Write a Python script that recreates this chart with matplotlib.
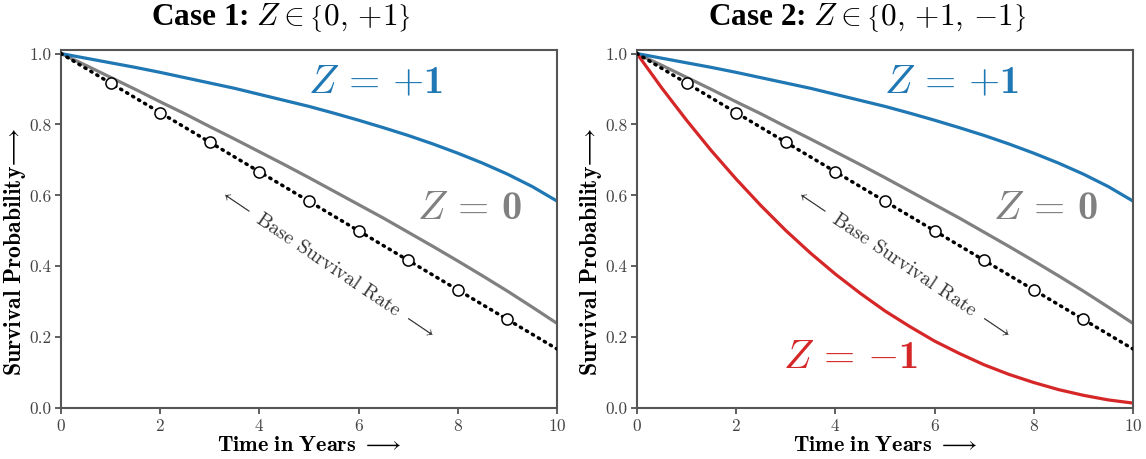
import numpy as np
import matplotlib
matplotlib.use("Agg")
import matplotlib.pyplot as plt

plt.rcParams['mathtext.fontset'] = 'cm'
plt.rcParams['font.family'] = 'cmr10'
plt.rcParams['axes.unicode_minus'] = False
plt.rcParams['axes.formatter.use_mathtext'] = True

# values
years = [0, 0.5, 1, 1.5, 2, 2.5, 3, 3.5, 4, 4.5, 5, 5.5, 6, 6.5, 7, 7.5, 8, 8.5, 9, 9.5, 10]
surv_pos = [1.000, 0.987, 0.974, 0.961, 0.947, 0.932, 0.917, 0.902, 0.885, 0.868, 0.851,
            0.832, 0.812, 0.791, 0.769, 0.745, 0.719, 0.691, 0.660, 0.625, 0.584]
surv_zero = [1.000, 0.967, 0.933, 0.899, 0.864, 0.830, 0.794, 0.759, 0.723, 0.687, 0.650,
             0.612, 0.574, 0.536, 0.496, 0.456, 0.415, 0.373, 0.330, 0.285, 0.239]
surv_neg = [1.000, 0.903, 0.812, 0.726, 0.646, 0.571, 0.501, 0.437, 0.378, 0.324, 0.274,
            0.230, 0.189, 0.154, 0.122, 0.095, 0.072, 0.052, 0.036, 0.023, 0.014]
base_years = [0, 10]
base_rate = [1.0, 0.1667]
marker_years = [1, 2, 3, 4, 5, 6, 7, 8, 9]
marker_rate = [0.917, 0.833, 0.750, 0.667, 0.583, 0.500, 0.417, 0.333, 0.250]

titles = [r'Case 1: $Z \in \left\{0,\,{+}1\right\}$',
          r'Case 2: $Z \in \left\{0,\,{+}1,\,{-}1\right\}$']
title_x = [0.245, 0.757]

BLUE = '#1f77b4'
GRAY = '#808080'
RED = '#d62728'

fig = plt.figure(figsize=(11.46, 4.59), dpi=100)
ax1 = fig.add_axes([0.0532, 0.111, 0.4328, 0.780])
ax2 = fig.add_axes([0.5558, 0.111, 0.4328, 0.780])

zkw = dict(fontsize=29, ha='center', va='center', fontfamily='cmb10')

for i, ax in enumerate([ax1, ax2]):
    ax.plot(base_years, base_rate, color='black', lw=2.5,
            linestyle=(0, (0.4, 1.6)), dash_capstyle='round', zorder=3)
    ax.plot(marker_years, marker_rate, 'o', ms=8, mfc='white', mec='black',
            mew=1.1, zorder=4)
    ax.plot(years, surv_zero, color=GRAY, lw=2.3)
    ax.plot(years, surv_pos, color=BLUE, lw=2.3)
    if i == 1:
        ax.plot(years, surv_neg, color=RED, lw=2.3)
        ax.text(4.3, 0.14, r'$Z \,=\, {-}$1', color=RED, **zkw)

    ax.text(6.35, 0.915, r'$Z \,=\, {+}$1', color=BLUE, **zkw)
    ax.text(8.25, 0.56, r'$Z \,=\,$0', color=GRAY, **zkw)
    ax.text(5.36, 0.405, r'$\longleftarrow$ Base Survival Rate $\longrightarrow$',
            rotation=-34, rotation_mode='anchor', ha='center', va='center',
            fontsize=14.5, color='#333333')

    ax.set_xlim(0, 10)
    ax.set_ylim(0, 1.01)
    ax.set_xticks([0, 2, 4, 6, 8, 10])
    ax.set_yticks([0.0, 0.2, 0.4, 0.6, 0.8, 1.0])
    ax.set_yticklabels(['0.0', '0.2', '0.4', '0.6', '0.8', '1.0'])
    ax.tick_params(labelsize=12.5, colors='#444444', length=4, width=1.2, pad=3)
    for sp in ax.spines.values():
        sp.set_color('#555555')
        sp.set_linewidth(1.5)
    ax.set_xlabel(r'$\mathbf{Time\ in\ Years}\ \longrightarrow$', fontsize=16, labelpad=1)
    ax.set_ylabel(r'$\mathbf{Survival\ Probability}\!\longrightarrow$', fontsize=17)
    ax.yaxis.set_label_coords(-0.066, 0.436)
    fig.text(title_x[i], 0.962, titles[i], fontsize=22.5, ha='center', va='center',
             fontfamily='Liberation Serif', fontweight='bold')

fig.savefig('out.png', dpi=100)
